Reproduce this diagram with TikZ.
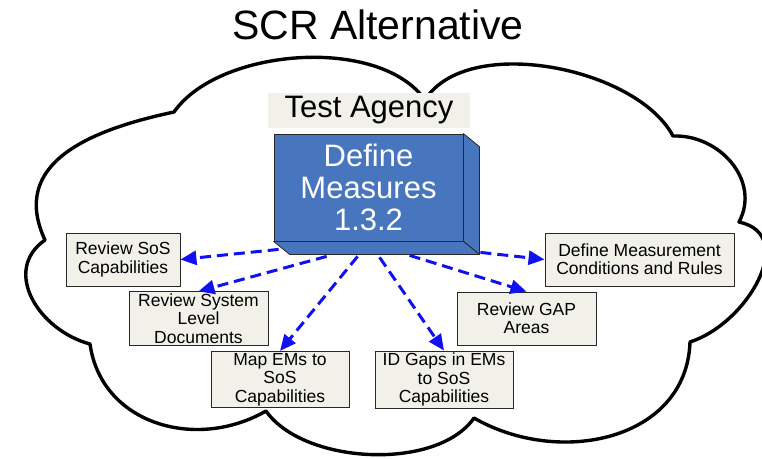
\documentclass[tikz,border=0pt]{standalone}
\usepackage{fontspec}
\setmainfont{Liberation Sans}
\usetikzlibrary{arrows.meta,calc}
\definecolor{ink}{RGB}{0,0,0}
\definecolor{edge}{RGB}{40,40,40}
\definecolor{paper}{RGB}{241,241,233}
\definecolor{block}{RGB}{72,118,190}
\definecolor{flowblue}{RGB}{16,16,240}
\tikzset{
  every picture/.style={x=1pt, y=1pt},
  task/.style={draw=edge, fill=paper, line width=0.9pt, minimum height=53pt, inner sep=2pt, align=center, font=\fontsize{17.5}{18.3}\selectfont},
  agency/.style={fill=paper, minimum width=202pt, minimum height=35pt, inner sep=0pt, font=\fontsize{31}{33}\selectfont},
  blockfront/.style={draw=edge, fill=block, line width=0.8pt, minimum width=189pt, minimum height=107pt, inner sep=0pt, align=center, text=white, font=\fontsize{31}{32}\selectfont},
  blockside/.style={draw=edge, fill=block, line width=0.8pt, line join=round},
  cloudline/.style={draw=ink, line width=3.4pt, line join=round},
  flow/.style={draw=flowblue, line width=3pt, dash pattern=on 11pt off 6pt, -{Triangle[length=16pt,width=14pt]}},
  title/.style={font=\fontsize{41}{44}\selectfont},
}

\begin{document}
\begin{tikzpicture}
  \useasboundingbox (0,0) rectangle (762,-458);
  % cloud outline
  \draw[cloudline] (174,-112)
    to[out=55, in=125, looseness=0.8] (425,-100)
    to[out=58, in=118, looseness=0.8] (673,-136)
    to[out=2, in=62, looseness=1.1] (739,-222)
    to[out=-12, in=18, looseness=1.2] (690,-342)
    to[out=-92, in=-30, looseness=1.1] (474,-418)
    to[out=-125, in=-55, looseness=0.8] (266,-411)
    to[out=-150, in=-82, looseness=1.1] (90,-344)
    to[out=165, in=-145, looseness=1.2] (45,-240)
    to[out=115, in=192, looseness=1.2] cycle;

  \node[title] (ttl) at (378,-25) {SCR Alternative};
  \node[agency] (agency) at (369,-110.5) {Test Agency};

  \node[blockfront] (blk) at (368.5,-187.5) {Define\\Measures\\1.3.2};
  \draw[blockside] (blk.north east) -- ++(16,-13) -- ($(blk.south east)+(16,-13)$) -- (blk.south east) -- cycle;
  \draw[blockside] (blk.south west) -- ++(16,-13) -- ($(blk.south east)+(16,-13)$) -- (blk.south east) -- cycle;

  \node[task, minimum width=114pt] (sos) at (123,-259.5) {Review SoS\\Capabilities};
  \node[task, minimum width=139pt] (sys) at (198.5,-318.5) {Review System\\Level\\Documents};
  \node[task, minimum width=138pt] (map) at (280,-379.5) {Map EMs to\\SoS\\Capabilities};
  \node[task, minimum width=138pt] (idg) at (444,-379.5) {ID Gaps in EMs\\to SoS\\Capabilities};
  \node[task, minimum width=139pt] (gap) at (526.5,-318.5) {Review GAP\\Areas};
  \node[task, minimum width=189pt] (dmc) at (639.5,-259.5) {Define Measurement\\Conditions and Rules};

  \coordinate (o1) at ($(blk.south west)+(5,-8)$);
  \coordinate (o2) at ($(blk.south west)+(53,-15)$);
  \coordinate (o3) at ($(blk.south west)+(84,-15)$);
  \coordinate (o4) at ($(blk.south west)+(106,-16)$);
  \coordinate (o5) at ($(blk.south west)+(136,-14)$);
  \coordinate (o6) at ($(blk.south east)+(17,-11)$);

  \draw[flow] (o1) -- (sos.east);
  \draw[flow] (o2) -- (sys.north);
  \draw[flow] (o3) -- (map.north);
  \draw[flow] (o4) -- (idg.north);
  \draw[flow] (o5) -- (gap.north);
  \draw[flow] (o6) -- (dmc.west);
\end{tikzpicture}
\end{document}
